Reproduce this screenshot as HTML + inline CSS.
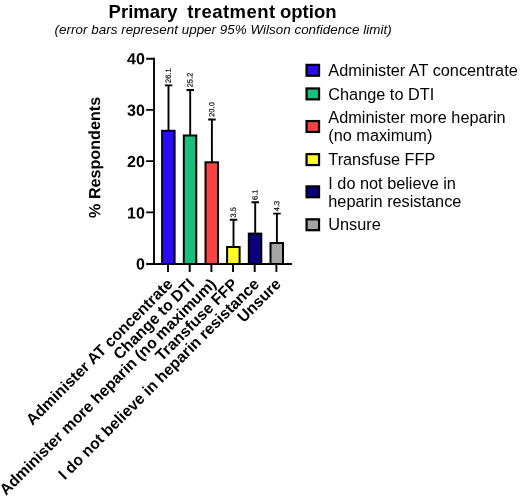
<!DOCTYPE html>
<html><head><meta charset="utf-8">
<style>
html,body{margin:0;padding:0;background:#fff;}
svg{display:block;font-family:"Liberation Sans",sans-serif;}
</style></head>
<body>
<svg width="520" height="498" viewBox="0 0 520 498">
<rect width="520" height="498" fill="#fff"/>
<!-- title -->
<g font-size="18.5" font-weight="bold" fill="#000">
<text x="108.6" y="18.4">Primary</text>
<text x="187.2" y="18.4" letter-spacing="0.45">treatment</text>
<text x="280" y="18.4">option</text>
</g>
<text x="223.1" y="34.3" text-anchor="middle" font-size="13.4" font-style="italic" fill="#000" textLength="337" lengthAdjust="spacing">(error bars represent upper 95% Wilson confidence limit)</text>

<!-- y axis label -->
<text transform="translate(100.1,157.4) rotate(-90.1)" text-anchor="middle" font-size="16.15" font-weight="bold">% Respondents</text>

<!-- y tick labels -->
<g font-size="16" font-weight="bold" text-anchor="end">
<text transform="translate(144.8,64.2) rotate(0.1)">40</text>
<text transform="translate(144.8,115.8) rotate(0.1)">30</text>
<text transform="translate(144.8,167.1) rotate(0.1)">20</text>
<text transform="translate(144.8,218.5) rotate(0.1)">10</text>
<text transform="translate(144.8,269.5) rotate(0.1)">0</text>
</g>

<!-- error bars -->
<g stroke="#000" stroke-width="1.9" fill="none">
<path d="M168.5 85.4V140 M164.8 85.4H172.3"/>
<path d="M190.2 90V140 M186.5 90H194"/>
<path d="M211.9 119.5V170 M208.2 119.5H215.7"/>
<path d="M233.5 219.8V250 M229.8 219.8H237.3"/>
<path d="M255.2 202.3V240 M251.5 202.3H259"/>
<path d="M276.9 213.6V245 M273.2 213.6H280.7"/>
</g>

<!-- bars -->
<g stroke="#000" stroke-width="2">
<rect x="162.1" y="130.8" width="12.5" height="133.2" fill="#2a0aff"/>
<rect x="183.8" y="135.5" width="12.5" height="128.5" fill="#14c07c"/>
<rect x="205.5" y="162.3" width="12.5" height="101.7" fill="#fa4242"/>
<rect x="227.1" y="247" width="12.5" height="17" fill="#ffff1f"/>
<rect x="248.8" y="233.6" width="12.5" height="30.4" fill="#0a0080"/>
<rect x="270.5" y="243" width="12.5" height="21" fill="#a4a4a6"/>
</g>

<!-- axes -->
<g stroke="#000" stroke-width="1.9" fill="none">
<path d="M154 57.75V264.9"/>
<path d="M153.1 264H291.9"/>
<path d="M146.2 58.7H154 M146.2 109.9H154 M146.2 161.1H154 M146.2 212.4H154 M146.2 264H154"/>
<path d="M168 264V271.9 M189.7 264V271.9 M211.4 264V271.9 M233 264V271.9 M254.7 264V271.9 M276.4 264V271.9"/>
</g>

<!-- value labels -->
<g font-size="7.5" fill="#000" stroke="#000" stroke-width="0.15">
<text transform="translate(170.8,83) rotate(-90.2)">26.1</text>
<text transform="translate(192.5,87.3) rotate(-90.2)">25.2</text>
<text transform="translate(214.2,116.8) rotate(-90.2)">20.0</text>
<text transform="translate(235.8,217.4) rotate(-90.2)">3.5</text>
<text transform="translate(257.5,199.9) rotate(-90.2)">6.1</text>
<text transform="translate(279.2,211.2) rotate(-90.2)">4.3</text>
</g>

<!-- x labels -->
<g font-size="15.75" font-weight="bold" text-anchor="end">
<text transform="translate(173.6,285) rotate(-45)">Administer AT concentrate</text>
<text transform="translate(195.3,285) rotate(-45)">Change to DTI</text>
<text transform="translate(217.0,285) rotate(-45)">Administer more heparin (no maximum)</text>
<text transform="translate(238.6,285) rotate(-45)">Transfuse FFP</text>
<text transform="translate(260.3,285) rotate(-45)">I do not believe in heparin resistance</text>
<text transform="translate(282.0,285) rotate(-45)">Unsure</text>
</g>

<!-- legend -->
<g stroke="#000" stroke-width="2.2">
<rect x="306.55" y="64.85" width="12.5" height="10.9" fill="#2a0aff"/>
<rect x="306.55" y="88.45" width="12.5" height="10.9" fill="#14c07c"/>
<rect x="306.55" y="121.05" width="12.5" height="10.9" fill="#fa4242"/>
<rect x="306.55" y="154.15" width="12.5" height="10.9" fill="#ffff1f"/>
<rect x="306.55" y="186.35" width="12.5" height="10.9" fill="#0a0080"/>
<rect x="306.55" y="219.3" width="12.5" height="10.9" fill="#a4a4a6"/>
</g>
<g font-size="16.3" fill="#000">
<text x="328.3" y="75.8">Administer AT concentrate</text>
<text x="328.3" y="99.7">Change to DTI</text>
<text x="328.3" y="122.8">Administer more heparin</text>
<text x="328.3" y="141.3">(no maximum)</text>
<text x="328.3" y="165">Transfuse FFP</text>
<text x="328.3" y="188.5">I do not believe in</text>
<text x="328.3" y="206.5">heparin resistance</text>
<text x="328.3" y="230">Unsure</text>
</g>
</svg>
</body></html>
